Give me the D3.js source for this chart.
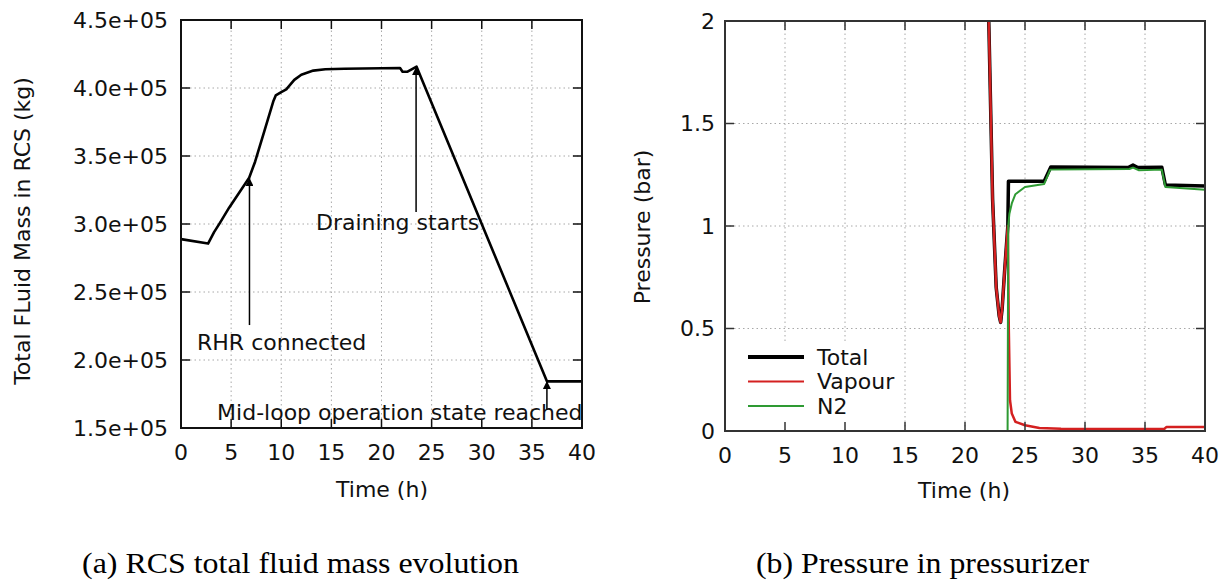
<!DOCTYPE html>
<html>
<head>
<meta charset="utf-8">
<script src="https://cdn.jsdelivr.net/npm/d3@7"></script>
<style>
  body { margin: 0; background: #fff; }
  svg { display: block; }
</style>
</head>
<body>
<script>
// ---- data (a) total fluid mass ----
var massTime   = [0, 2.7, 3.3, 3.9, 4.8, 5.8, 6.8, 7.4, 8.3, 9.2, 9.45, 10.0, 10.5, 11.3, 12.0, 13.2, 14.4, 16.3, 21.85, 22.1, 22.6, 23.5, 36.5, 40];
var massValues = [2.889e5, 2.856e5, 2.94e5, 3.01e5, 3.12e5, 3.23e5, 3.34e5, 3.46e5, 3.68e5, 3.90e5, 3.945e5, 3.97e5, 3.99e5, 4.06e5, 4.098e5, 4.128e5, 4.138e5, 4.142e5, 4.147e5, 4.12e5, 4.12e5, 4.157e5, 1.843e5, 1.843e5];

var timeTicks = [0, 5, 10, 15, 20, 25, 30, 35, 40];
var massTicks = [1.5e5, 2.0e5, 2.5e5, 3.0e5, 3.5e5, 4.0e5, 4.5e5];
var pressTicks = [0, 0.5, 1, 1.5, 2];
var pressTickLabels = ["0", "0.5", "1", "1.5", "2"];

// annotations on (a)
var noteLabels   = ["RHR connected", "Draining starts", "Mid-loop operation state reached"];
var noteTime     = [6.83, 23.45, 36.5];
var noteTail     = [2.257e5, 3.088e5, 1.632e5];
var noteHead     = [3.338e5, 4.154e5, 1.846e5];
var noteTextTime = [1.6, 13.47, 3.6];
var noteTextMass = [2.074e5, 2.956e5, 1.559e5];

// ---- data (b) pressurizer pressure ----
var totalTime   = [21.85, 22.0, 22.3, 22.6, 22.85, 22.97, 23.1, 23.3, 23.57, 23.62, 26.6, 27.15, 33.6, 34.0, 34.4, 36.4, 36.7, 40];
var totalValues = [2.3, 1.95, 1.13, 0.7, 0.56, 0.53, 0.6, 0.78, 1.0, 1.218, 1.218, 1.288, 1.285, 1.297, 1.285, 1.287, 1.2, 1.195];

var vapourTime   = [21.85, 22.0, 22.3, 22.6, 22.85, 22.97, 23.1, 23.3, 23.57, 23.65, 23.75, 23.9, 24.2, 25, 26.2, 28, 36.6, 36.8, 40];
var vapourValues = [2.3, 1.95, 1.13, 0.7, 0.56, 0.53, 0.6, 0.78, 1.0, 0.5, 0.15, 0.085, 0.045, 0.028, 0.015, 0.011, 0.01, 0.02, 0.02];

var n2Time   = [0, 23.55, 23.6, 23.7, 23.9, 24.2, 25, 26.6, 27.1, 33.7, 34.0, 34.5, 36.4, 36.7, 40];
var n2Values = [0, 0, 1.0, 1.06, 1.11, 1.155, 1.19, 1.205, 1.275, 1.278, 1.285, 1.272, 1.275, 1.19, 1.177];

var seriesNames  = ["Total", "Vapour", "N2"];
var seriesColors = ["#000000", "#d42020", "#2e9a33"];
var seriesWidths = [3.5, 2.5, 2];

var captions = ["(a) RCS total fluid mass evolution", "(b) Pressure in pressurizer"];

function init() {
    var w = 1226, h = 580;
    var tickLen = 9;
    var fs = 22;

    var svg = d3.select("body")
                .append("svg")
                .attr("width", w)
                .attr("height", h)
                .style("font-family", "'DejaVu Sans', sans-serif");

    var defs = svg.append("defs");
    defs.append("marker")
        .attr("id", "head")
        .attr("viewBox", "0 0 10 10")
        .attr("refX", 10)
        .attr("refY", 5)
        .attr("markerUnits", "userSpaceOnUse")
        .attr("markerWidth", 10)
        .attr("markerHeight", 8)
        .attr("orient", "auto")
        .append("path")
        .attr("d", "M0,0 L10,5 L0,10 z")
        .attr("fill", "#000");

    // dotted grid inside a panel
    function frame(g, x, y, xt, yt) {
        var x0 = x.range()[0], x1 = x.range()[1];
        var y0 = y.range()[0], y1 = y.range()[1];

        g.selectAll(".vgrid")
            .data(xt.slice(1, -1))
            .enter()
            .append("line")
            .attr("x1", function(d) { return x(d); })
            .attr("x2", function(d) { return x(d); })
            .attr("y1", y0)
            .attr("y2", y1)
            .attr("stroke", "#a8a8a8")
            .attr("stroke-width", 1)
            .attr("stroke-dasharray", "1.5,3");

        g.selectAll(".hgrid")
            .data(yt.slice(1, -1))
            .enter()
            .append("line")
            .attr("x1", x0)
            .attr("x2", x1)
            .attr("y1", function(d) { return y(d); })
            .attr("y2", function(d) { return y(d); })
            .attr("stroke", "#a8a8a8")
            .attr("stroke-width", 1)
            .attr("stroke-dasharray", "1.5,3");
    }

    // inward ticks on all four sides + border box
    function ticksAndBorder(g, x, y, xt, yt, borderColor) {
        var x0 = x.range()[0], x1 = x.range()[1];
        var y0 = y.range()[0], y1 = y.range()[1];
        var t = g.append("g")
                 .attr("stroke", borderColor)
                 .attr("stroke-width", 1.5);

        xt.forEach(function(d) {
            t.append("line").attr("x1", x(d)).attr("x2", x(d)).attr("y1", y0).attr("y2", y0 - tickLen);
            t.append("line").attr("x1", x(d)).attr("x2", x(d)).attr("y1", y1).attr("y2", y1 + tickLen);
        });
        yt.forEach(function(d) {
            t.append("line").attr("x1", x0).attr("x2", x0 + tickLen).attr("y1", y(d)).attr("y2", y(d));
            t.append("line").attr("x1", x1).attr("x2", x1 - tickLen).attr("y1", y(d)).attr("y2", y(d));
        });

        g.append("rect")
            .attr("x", x0)
            .attr("y", y1)
            .attr("width", x1 - x0)
            .attr("height", y0 - y1)
            .attr("fill", "none")
            .attr("stroke", borderColor)
            .attr("stroke-width", 2);
    }

    function tickLabels(g, x, y, xt, yt, yFmt, xLabelY, yLabelX) {
        g.selectAll(".xl")
            .data(xt)
            .enter()
            .append("text")
            .attr("x", function(d) { return x(d); })
            .attr("y", xLabelY)
            .attr("dy", "0.35em")
            .attr("text-anchor", "middle")
            .attr("font-size", fs)
            .attr("fill", "#111")
            .text(function(d) { return d; });

        g.selectAll(".yl")
            .data(yt)
            .enter()
            .append("text")
            .attr("x", yLabelX)
            .attr("y", function(d) { return y(d); })
            .attr("dy", "0.35em")
            .attr("text-anchor", "end")
            .attr("font-size", fs)
            .attr("fill", "#111")
            .text(function(d, i) { return yFmt(d, i); });
    }

    // ================= panel (a) =================
    var xA = d3.scaleLinear().domain([0, 40]).range([181, 582]);
    var yA = d3.scaleLinear().domain([1.5e5, 4.5e5]).range([428, 20]);
    var gA = svg.append("g");

    frame(gA, xA, yA, timeTicks, massTicks);

    var massLine = d3.line()
                     .x(function(d, i) { return xA(massTime[i]); })
                     .y(function(d) { return yA(d); });

    gA.append("path")
        .datum(massValues)
        .attr("d", massLine)
        .attr("fill", "none")
        .attr("stroke", "#000")
        .attr("stroke-width", 2.6)
        .attr("stroke-linejoin", "round");

    // annotation arrows
    gA.selectAll(".arrow")
        .data(noteLabels)
        .enter()
        .append("line")
        .attr("x1", function(d, i) { return xA(noteTime[i]); })
        .attr("x2", function(d, i) { return xA(noteTime[i]); })
        .attr("y1", function(d, i) { return yA(noteTail[i]); })
        .attr("y2", function(d, i) { return yA(noteHead[i]); })
        .attr("stroke", "#000")
        .attr("stroke-width", 1.5)
        .attr("marker-end", "url(#head)");

    gA.selectAll(".note")
        .data(noteLabels)
        .enter()
        .append("text")
        .attr("x", function(d, i) { return xA(noteTextTime[i]); })
        .attr("y", function(d, i) { return yA(noteTextMass[i]); })
        .attr("font-size", fs)
        .attr("fill", "#111")
        .text(function(d) { return d; });

    ticksAndBorder(gA, xA, yA, timeTicks, massTicks, "#111");
    tickLabels(gA, xA, yA, timeTicks, massTicks,
               function(d) { return (d / 1e5).toFixed(1) + "e+05"; }, 452, 168);

    gA.append("text")
        .attr("text-anchor", "middle")
        .attr("x", 382)
        .attr("y", 489)
        .attr("dy", "0.35em")
        .attr("font-size", fs)
        .attr("fill", "#111")
        .text("Time (h)");

    gA.append("text")
        .attr("text-anchor", "middle")
        .attr("transform", "rotate(-90)")
        .attr("x", -231)
        .attr("y", 22)
        .attr("dy", "0.35em")
        .attr("font-size", fs)
        .attr("fill", "#111")
        .text("Total FLuid Mass in RCS (kg)");

    // ================= panel (b) =================
    var xB = d3.scaleLinear().domain([0, 40]).range([725, 1205]);
    var yB = d3.scaleLinear().domain([0, 2]).range([431, 21]);
    var gB = svg.append("g");

    frame(gB, xB, yB, timeTicks, pressTicks);

    // legend background covers the grid
    gB.append("rect")
        .attr("x", xB(0) + 2)
        .attr("y", 344)
        .attr("width", 175)
        .attr("height", yB(0) - 346)
        .attr("fill", "#fff");

    defs.append("clipPath")
        .attr("id", "clipB")
        .append("rect")
        .attr("x", xB(0))
        .attr("y", yB(2))
        .attr("width", xB(40) - xB(0))
        .attr("height", yB(0) - yB(2));

    var seriesTimes  = [totalTime, vapourTime, n2Time];
    var seriesValues = [totalValues, vapourValues, n2Values];

    var plotB = gB.append("g").attr("clip-path", "url(#clipB)");
    seriesNames.forEach(function(name, k) {
        var line = d3.line()
                     .x(function(d, i) { return xB(seriesTimes[k][i]); })
                     .y(function(d) { return yB(d); });
        plotB.append("path")
            .datum(seriesValues[k])
            .attr("d", line)
            .attr("fill", "none")
            .attr("stroke", seriesColors[k])
            .attr("stroke-width", seriesWidths[k])
            .attr("stroke-linejoin", "round");
    });

    ticksAndBorder(gB, xB, yB, timeTicks, pressTicks, "#333");
    tickLabels(gB, xB, yB, timeTicks, pressTicks,
               function(d, i) { return pressTickLabels[i]; }, 455, 715);

    // legend
    var legend = gB.selectAll(".legend")
                   .data(seriesNames)
                   .enter()
                   .append("g")
                   .attr("transform", function(d, i) { return "translate(0," + (357 + i * 24.5) + ")"; });

    legend.append("line")
        .attr("x1", 748)
        .attr("x2", 804)
        .attr("y1", 0)
        .attr("y2", 0)
        .attr("stroke", function(d, i) { return seriesColors[i]; })
        .attr("stroke-width", function(d, i) { return i == 0 ? 4 : 2.2; });

    legend.append("text")
        .attr("x", 817)
        .attr("y", 0)
        .attr("dy", "0.35em")
        .attr("font-size", fs)
        .attr("fill", "#111")
        .text(function(d) { return d; });

    gB.append("text")
        .attr("text-anchor", "middle")
        .attr("x", 964)
        .attr("y", 490)
        .attr("dy", "0.35em")
        .attr("font-size", fs)
        .attr("fill", "#111")
        .text("Time (h)");

    gB.append("text")
        .attr("text-anchor", "middle")
        .attr("transform", "rotate(-90)")
        .attr("x", -227)
        .attr("y", 642)
        .attr("dy", "0.35em")
        .attr("font-size", fs)
        .attr("fill", "#111")
        .text("Pressure (bar)");

    // captions
    var capX = [82, 756];
    var capW = [437, 333];
    svg.selectAll(".caption")
        .data(captions)
        .enter()
        .append("text")
        .attr("x", function(d, i) { return capX[i]; })
        .attr("y", 573)
        .attr("font-family", "'Liberation Serif', 'Times New Roman', serif")
        .attr("font-size", 30)
        .attr("textLength", function(d, i) { return capW[i]; })
        .attr("lengthAdjust", "spacingAndGlyphs")
        .attr("fill", "#000")
        .text(function(d) { return d; });
}
window.onload = init;
</script>
</body>
</html>
